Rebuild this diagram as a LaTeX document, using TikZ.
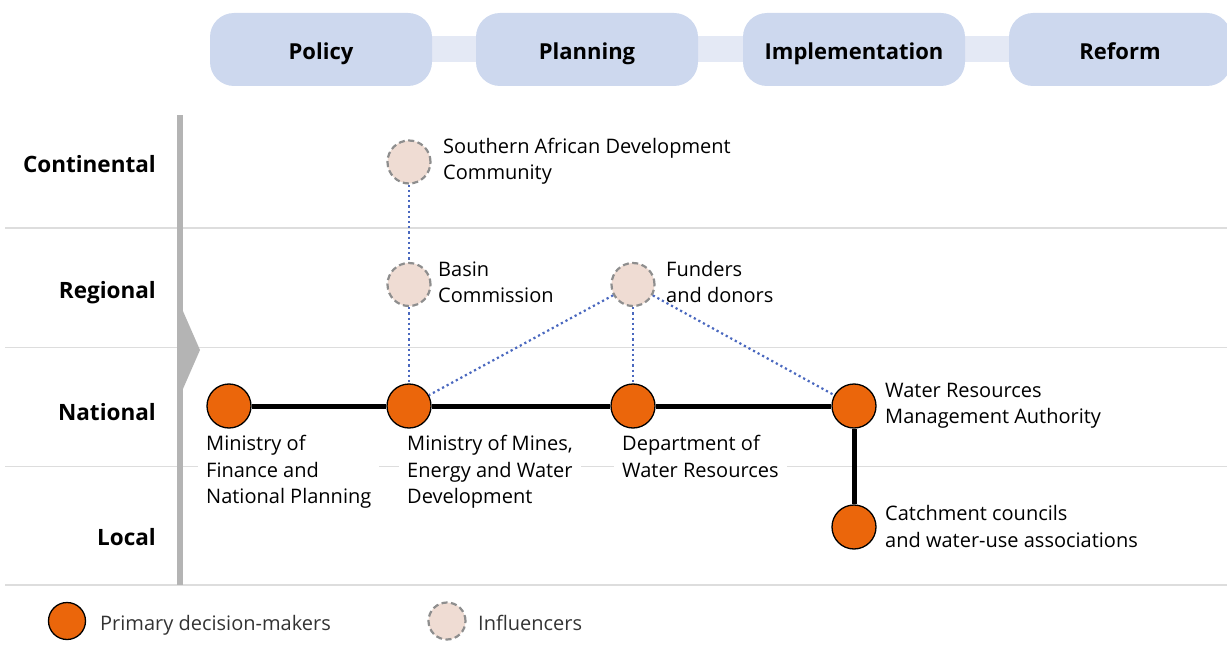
\documentclass[tikz,border=0pt]{standalone}
\usepackage{fontspec}
\setmainfont{Open Sans}
\usetikzlibrary{backgrounds}
\definecolor{pillc}{HTML}{CDD8EE}
\definecolor{bandc}{HTML}{E4E9F5}
\definecolor{sepc}{HTML}{DDDDDD}
\definecolor{barc}{HTML}{B4B4B4}
\definecolor{orangec}{HTML}{EB660B}
\definecolor{inflc}{HTML}{EFDCD3}
\definecolor{infbd}{HTML}{8E8E8E}
\definecolor{dotc}{HTML}{4A68BF}
\definecolor{legtxt}{HTML}{333333}
\begin{document}
\begin{tikzpicture}[x=1pt,y=-1pt,
  pill/.style={fill=pillc, rounded corners=24pt, minimum width=222pt, minimum height=73pt,
    font=\fontsize{22}{26}\selectfont\bfseries, text height=21pt, text depth=0pt, inner sep=0pt},
  primary/.style={circle, fill=orangec, draw=black, line width=1.3pt, minimum size=44pt, inner sep=0pt},
  influ/.style={circle, fill=inflc, draw=infbd, line width=2.2pt, dash pattern=on 6pt off 3.5pt, minimum size=43pt, inner sep=0pt},
  lbl/.style={anchor=base west, align=left, font=\fontsize{20}{26.5}\selectfont, fill=white, inner xsep=8pt, inner ysep=2pt},
  rowlbl/.style={anchor=base east, font=\fontsize{22.5}{27}\selectfont\bfseries, inner sep=0pt},
  legtext/.style={anchor=base west, font=\fontsize{20}{24}\selectfont, text=legtxt, inner sep=0pt},
  sepline/.style={sepc, line width=1.5pt},
  dotl/.style={dotc, line width=2.2pt, dash pattern=on 2.2pt off 3pt},
  solidl/.style={black, line width=5pt}
]
\useasboundingbox (0,0) rectangle (1227,666);

% phase pills
\node[pill] (p1) at (321,49.5) {Policy};
\node[pill] (p2) at (587,49.5) {Planning};
\node[pill] (p3) at (854,49.5) {Implementation};
\node[pill] (p4) at (1120,49.5) {Reform};
\begin{scope}[on background layer]
  \draw[bandc, line width=26pt] (p1.center) -- (p4.center);
\end{scope}

% separators
\draw[sepline] (5,228) -- (1227,228);
\draw[sepline] (5,347.5) -- (1227,347.5);
\draw[sepline] (5,466.5) -- (1227,466.5);
\draw[sepline] (5,585) -- (1227,585);

% vertical bar with chevron
\fill[barc] (177,115) rectangle (183,585);
\fill[barc] (182.5,310) -- (200,350) -- (182.5,390) -- cycle;

% row labels
\node[rowlbl] (r1) at (156,173) {Continental};
\node[rowlbl] (r2) at (156,298.3) {Regional};
\node[rowlbl] (r3) at (156,420) {National};
\node[rowlbl] (r4) at (156,545) {Local};

% text labels (anchor = baseline of last line)
\node[lbl] (mfl) at (198,503.7) {Ministry of\\Finance and\\National Planning};
\node[lbl] (mml) at (399,503.7) {Ministry of Mines,\\Energy and Water\\Development};
\node[lbl] (dwl) at (614,477.2) {Department of\\Water Resources};
\node[lbl] (wrl) at (877,423.8) {Water Resources\\Management Authority};
\node[lbl] (ccl) at (877,547.2) {Catchment councils\\and water-use associations};
\node[lbl] (sadcl) at (435,179.5) {Southern African Development\\Community};
\node[lbl] (bcl) at (430,302.6) {Basin\\Commission};
\node[lbl] (fdl) at (658,302.6) {Funders\\and donors};

% actor nodes
\node[primary] (mf) at (229,406) {};
\node[primary] (mm) at (409,406) {};
\node[primary] (dw) at (633,406) {};
\node[primary] (wr) at (854,406) {};
\node[primary] (cc) at (854,527) {};
\node[influ] (sadc) at (409,162) {};
\node[influ] (bc) at (409,284.5) {};
\node[influ] (fd) at (633,284.5) {};

% connectors
\draw[solidl] (mf) -- (mm);
\draw[solidl] (mm) -- (dw);
\draw[solidl] (dw) -- (wr);
\draw[solidl] (wr) -- (cc);
\draw[dotl] (sadc) -- (bc);
\draw[dotl] (bc) -- (mm);
\draw[dotl] (fd) -- (mm);
\draw[dotl] (fd) -- (dw);
\draw[dotl] (fd) -- (wr);

% legend
\node[primary, minimum size=37pt] (lg1) at (67,621) {};
\node[legtext] (lg1t) at (100,630) {Primary decision-makers};
\node[influ, minimum size=37pt] (lg2) at (447,621) {};
\node[legtext] (lg2t) at (478,630) {Influencers};
\end{tikzpicture}
\end{document}
